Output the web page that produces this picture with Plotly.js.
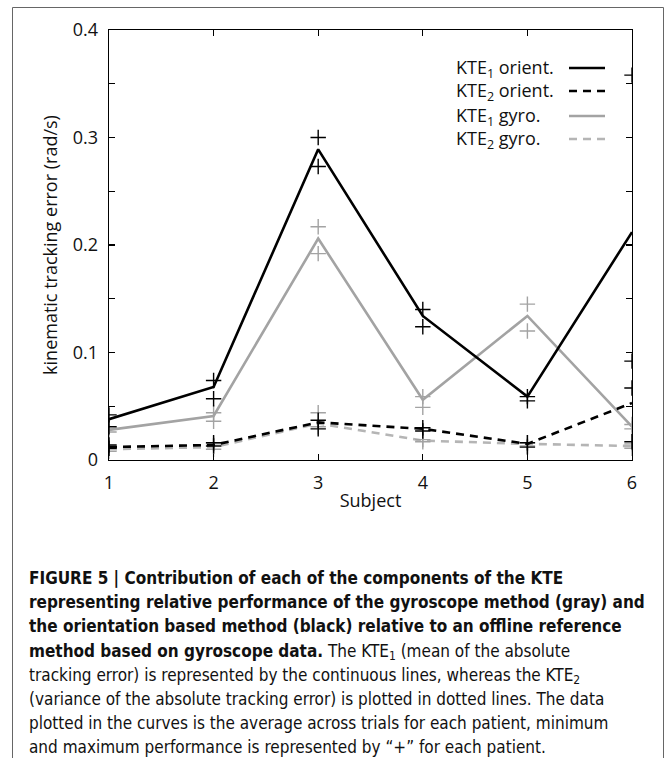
<!DOCTYPE html>
<html>
<head>
<meta charset="utf-8">
<script src="https://cdn.plot.ly/plotly-3.0.1.min.js"></script>
<style>
  html, body { margin: 0; padding: 0; background: #fff; }
  #wrap { position: relative; width: 671px; height: 758px; overflow: hidden; background: #fff; }
  #chart { position: absolute; left: 0; top: 0; width: 671px; height: 758px; }
  .txt { position: absolute; white-space: nowrap; color: #111; height: 24px; line-height: 24px; }
  .leg { font-family: "Open Sans", "Noto Sans", sans-serif; font-size: 18px; }
  .leg sub { font-size: 12.5px; line-height: 0; vertical-align: -4px; }
  .cap { font-family: "Liberation Sans Narrow", "Arial Narrow", "DejaVu Sans Condensed", sans-serif; font-size: 17px; }
  .cap b { font-size: 17px; font-weight: bold; }
  .cap span { font-size: 17px; }
  .cap sub { font-size: 12px; line-height: 0; vertical-align: -3px; }
</style>
</head>
<body>
<div id="wrap">
  <div id="chart"></div>
</div>
<script>
// ---- data ----
const subjects = [1, 2, 3, 4, 5, 6];

const kte1Orient    = [0.038, 0.068, 0.289, 0.134, 0.059, 0.212];
const kte1OrientMin = [0.031, 0.057, 0.273, 0.124, 0.055, 0.067];
const kte1OrientMax = [0.042, 0.074, 0.300, 0.140, 0.059, 0.358];

const kte2Orient    = [0.012, 0.014, 0.035, 0.029, 0.015, 0.053];
const kte2OrientMin = [0.011, 0.013, 0.029, 0.027, 0.012, 0.017];
const kte2OrientMax = [0.014, 0.016, 0.037, 0.030, 0.016, 0.092];

const kte1Gyro    = [0.028, 0.041, 0.206, 0.056, 0.134, 0.031];
const kte1GyroMin = [0.026, 0.036, 0.192, 0.049, 0.120, 0.029];
const kte1GyroMax = [0.029, 0.044, 0.217, 0.059, 0.145, 0.033];

const kte2Gyro    = [0.010, 0.012, 0.034, 0.018, 0.015, 0.013];
const kte2GyroMin = [0.008, 0.010, 0.031, 0.017, 0.013, 0.011];
const kte2GyroMax = [0.012, 0.015, 0.044, 0.019, 0.016, 0.015];

const legendLabels = ["KTE<sub>1</sub> orient.", "KTE<sub>2</sub> orient.", "KTE<sub>1</sub> gyro.", "KTE<sub>2</sub> gyro."];
const yTickVals = [0, 0.1, 0.2, 0.3, 0.4];
const yTickText = ["0", "0.1", "0.2", "0.3", "0.4"];

const captionLines = [
  "<b>FIGURE 5 | Contribution of each of the components of the KTE</b>",
  "<b>representing relative performance of the gyroscope method (gray) and</b>",
  "<b>the orientation based method (black) relative to an offline reference</b>",
  "<b>method based on gyroscope data.</b><span> The KTE<sub>1</sub> (mean of the absolute</span>",
  "<span>tracking error) is represented by the continuous lines, whereas the KTE<sub>2</sub></span>",
  "<span>(variance of the absolute tracking error) is plotted in dotted lines. The data</span>",
  "<span>plotted in the curves is the average across trials for each patient, minimum</span>",
  "<span>and maximum performance is represented by “+” for each patient.</span>"
];

// ---- styles ----
const BLACK = "#000000";
const GRAY = "#a3a3a3";
const GRAY2 = "#b5b5b5";
const LW = 2.6;
const DASH = "8px,6px";

function lineTrace(y, color, dash) {
  return { x: subjects, y: y, mode: "lines", type: "scatter", showlegend: false,
           line: { color: color, width: LW, dash: dash }, hoverinfo: "skip" };
}
function markTrace(y, color) {
  return { x: subjects, y: y, mode: "markers", type: "scatter", showlegend: false,
           marker: { symbol: "cross-thin", size: 11, line: { color: color, width: 1.4 } }, hoverinfo: "skip" };
}

const traces = [
  lineTrace(kte2Gyro, GRAY2, DASH),
  markTrace(kte2GyroMin, GRAY), markTrace(kte2GyroMax, GRAY),
  lineTrace(kte1Gyro, GRAY, "solid"),
  markTrace(kte1GyroMin, GRAY), markTrace(kte1GyroMax, GRAY),
  lineTrace(kte2Orient, BLACK, DASH),
  markTrace(kte2OrientMin, BLACK), markTrace(kte2OrientMax, BLACK),
  lineTrace(kte1Orient, BLACK, "solid"),
  markTrace(kte1OrientMin, BLACK), markTrace(kte1OrientMax, BLACK)
];

// plot area in px
const L = 109, R = 632, T = 30, B = 460, W = 671, H = 758;
const px2x = p => (p - L) / (R - L);
const px2y = p => (B - p) / (B - T);

const FONT = "Open Sans, Noto Sans, sans-serif";

const shapes = [];

// outer frame (left, top, right; open at the bottom)
shapes.push({ type: "path", xref: "paper", yref: "paper", layer: "below",
  path: `M ${px2x(12.5)} ${px2y(780)} L ${px2x(12.5)} ${px2y(7.5)} L ${px2x(663.5)} ${px2y(7.5)} L ${px2x(663.5)} ${px2y(780)}`,
  line: { color: "#666", width: 1 } });

// manual legend: line samples drawn as shapes, labels as text to their left
const legColors = [BLACK, BLACK, GRAY, GRAY2];
const legDash = ["solid", DASH, "solid", DASH];
const legY = [68, 91, 116, 139];
const wrap = document.getElementById("wrap");
legendLabels.forEach((t, i) => {
  shapes.push({ type: "line", xref: "paper", yref: "paper",
    x0: px2x(569), x1: px2x(605), y0: px2y(legY[i]), y1: px2y(legY[i]),
    line: { color: legColors[i], width: LW, dash: legDash[i] } });
  const d = document.createElement("div");
  d.className = "txt leg";
  d.style.left = "456px";
  d.style.top = (legY[i] - 13) + "px";
  d.innerHTML = t;
  wrap.appendChild(d);
});

// caption
captionLines.forEach((t, i) => {
  const d = document.createElement("div");
  d.className = "txt cap";
  d.style.left = "29px";
  d.style.top = (578 + i * 24.2 - 12) + "px";
  d.innerHTML = t;
  wrap.appendChild(d);
});

const layout = {
  width: W, height: H,
  margin: { l: L, r: W - R, t: T, b: H - B, pad: 0 },
  paper_bgcolor: "rgba(0,0,0,0)",
  plot_bgcolor: "rgba(0,0,0,0)",
  font: { family: FONT, size: 18, color: "#111" },
  xaxis: {
    range: [1, 6], tickvals: subjects, ticktext: subjects.map(String),
    ticks: "inside", ticklen: 6, tickwidth: 1.2, tickcolor: "#000",
    showline: true, linecolor: "#000", linewidth: 1.3, mirror: "ticks",
    showgrid: false, zeroline: false, ticklabelstandoff: 6,
    tickfont: { family: FONT, size: 18 },
    title: { text: "Subject", font: { family: FONT, size: 18 }, standoff: 1 }
  },
  yaxis: {
    range: [0, 0.4], tickvals: yTickVals, ticktext: yTickText,
    ticks: "inside", ticklen: 6, tickwidth: 1.2, tickcolor: "#000",
    minor: { dtick: 0.05, ticks: "inside", ticklen: 6, tickwidth: 1.2, tickcolor: "#000", showgrid: false },
    showline: true, linecolor: "#000", linewidth: 1.3, mirror: "ticks",
    showgrid: false, zeroline: false, ticklabelstandoff: 6,
    tickfont: { family: FONT, size: 18 },
    title: { text: "kinematic tracking error (rad/s)", font: { family: FONT, size: 18 }, standoff: 10 }
  },
  shapes: shapes
};

Plotly.newPlot("chart", traces, layout, { displayModeBar: false, staticPlot: true });
</script>
</body>
</html>
